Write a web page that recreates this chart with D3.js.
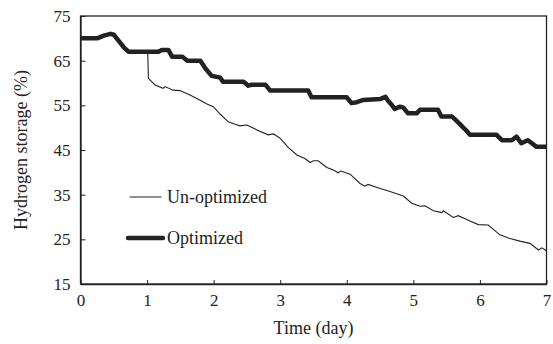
<!DOCTYPE html>
<html><head><meta charset="utf-8">
<script src="https://cdn.jsdelivr.net/npm/d3@7"></script>
<style>body{margin:0;background:#fff}svg{display:block}text{font-family:"Liberation Serif","Times New Roman",serif;fill:#222}</style>
</head><body><svg id="c" width="553" height="344"></svg>
<script>
const xTicks = [0,1,2,3,4,5,6,7];
const yTicks = [15,25,35,45,55,65,75];
const seriesNames = ["Un-optimized","Optimized"];
const optimized = [[0,70],[0.25,70],[0.35,70.6],[0.45,71.0],[0.5,70.8],[0.58,69.3],[0.65,68.0],[0.72,67.0],[1.17,67.0],[1.22,67.4],[1.32,67.4],[1.375,65.9],[1.53,65.9],[1.6,65.0],[1.8,65.0],[1.88,63.2],[1.97,61.6],[2.1,61.2],[2.14,60.3],[2.45,60.3],[2.52,59.4],[2.57,59.6],[2.78,59.6],[2.85,58.3],[3.42,58.3],[3.47,56.8],[4.0,56.8],[4.07,55.5],[4.15,55.7],[4.25,56.2],[4.5,56.4],[4.58,56.9],[4.62,56.0],[4.68,55.0],[4.72,54.2],[4.8,54.7],[4.85,54.5],[4.92,53.2],[5.05,53.2],[5.1,54.0],[5.37,54.0],[5.42,52.5],[5.58,52.5],[5.65,51.5],[5.7,50.8],[5.75,50.0],[5.8,49.3],[5.85,48.4],[6.25,48.4],[6.33,47.2],[6.48,47.2],[6.55,48.0],[6.62,46.5],[6.72,47.2],[6.78,46.5],[6.85,45.7],[7,45.7]];
const unoptimized = [[0,70],[0.25,70],[0.35,70.6],[0.45,71.0],[0.5,70.8],[0.58,69.3],[0.65,68.0],[0.72,67.0],[1.01,67.0],[1.02,61.05],[1.12,59.55],[1.24,58.8],[1.27,59.2],[1.39,58.4],[1.495,58.3],[1.645,57.3],[1.79,56.2],[1.9,55.3],[1.995,54.7],[2.1,53.0],[2.22,51.3],[2.3,50.9],[2.395,50.4],[2.5,50.6],[2.65,49.5],[2.82,48.4],[2.9,48.6],[3.0,47.6],[3.12,45.6],[3.25,43.9],[3.37,43.1],[3.45,42.2],[3.5,42.6],[3.57,42.6],[3.7,41.1],[3.8,40.5],[3.87,39.9],[3.91,40.3],[4.05,39.6],[4.2,37.5],[4.27,36.9],[4.32,37.3],[4.5,36.4],[4.65,35.7],[4.85,34.7],[4.975,33.1],[5.1,32.4],[5.175,32.5],[5.3,31.4],[5.43,31.0],[5.45,31.4],[5.6,29.9],[5.675,30.3],[5.85,29.1],[5.975,28.3],[6.125,28.2],[6.3,26.0],[6.45,25.2],[6.6,24.6],[6.75,24.1],[6.88,22.6],[6.93,23.1],[7,22.45]];

const svg = d3.select("#c");
const L=80.5, R=546.5, T=16, B=284;
const x = d3.scaleLinear().domain([0,7]).range([L,R]);
const y = d3.scaleLinear().domain([15,75]).range([B,T]);
const ink="#222";

svg.append("rect").attr("x",L).attr("y",T).attr("width",R-L).attr("height",B-T)
  .attr("fill","none").attr("stroke",ink).attr("stroke-width",1.3);

const xa = svg.append("g").attr("transform",`translate(0,${B})`)
  .call(d3.axisBottom(x).tickValues(xTicks).tickFormat(d3.format("d")).tickSizeInner(-4).tickSizeOuter(0).tickPadding(10));
const ya = svg.append("g").attr("transform",`translate(${L},0)`)
  .call(d3.axisLeft(y).tickValues(yTicks).tickFormat(d3.format("d")).tickSizeInner(-5).tickSizeOuter(0).tickPadding(10));
[xa,ya].forEach(g=>{g.select(".domain").attr("stroke",ink).attr("stroke-width",1.3);
  g.selectAll(".tick line").attr("stroke",ink).attr("stroke-width",1);
  g.selectAll("text").attr("font-size",17).attr("font-family","Liberation Serif").attr("fill",ink);});

const line = d3.line().x(d=>x(d[0])).y(d=>y(d[1]));
svg.append("path").datum(unoptimized).attr("d",line).attr("fill","none").attr("stroke",ink).attr("stroke-width",1.1);
svg.append("path").datum(optimized).attr("d",line).attr("fill","none").attr("stroke",ink).attr("stroke-width",4.5).attr("stroke-linejoin","round");

svg.append("text").attr("x",(L+R)/2).attr("y",334).attr("text-anchor","middle").attr("font-size",18).text("Time (day)");
svg.append("text").attr("transform",`translate(27,${(T+B)/2}) rotate(-90)`).attr("text-anchor","middle").attr("font-size",18).text("Hydrogen storage (%)");

const leg=[{n:seriesNames[0],w:1.1,y:197,x1:130,x2:161},{n:seriesNames[1],w:4.5,y:238,x1:128,x2:163}];
leg.forEach(l=>{
  svg.append("line").attr("x1",l.x1).attr("x2",l.x2).attr("y1",l.y).attr("y2",l.y).attr("stroke",ink).attr("stroke-width",l.w).attr("stroke-linecap","round");
  svg.append("text").attr("x",167).attr("y",l.y+6).attr("font-size",18).text(l.n);
});
</script></body></html>
